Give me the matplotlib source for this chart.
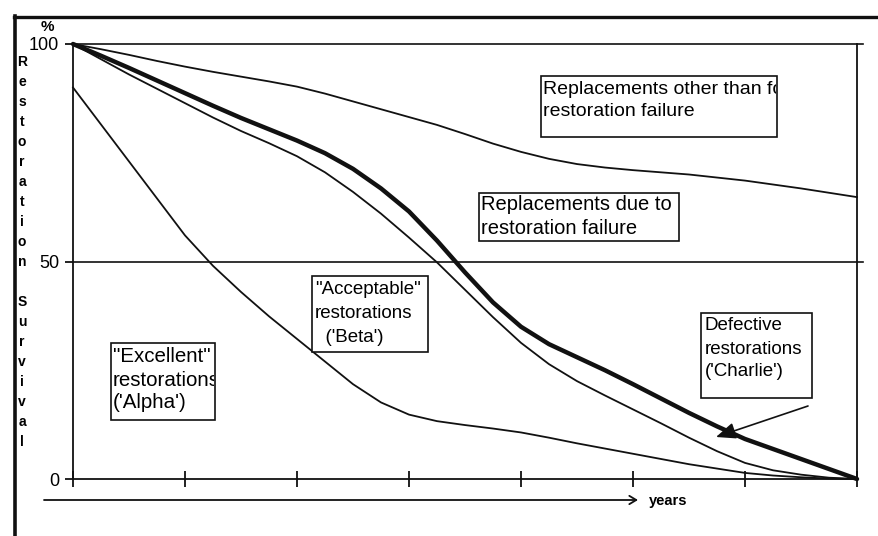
import matplotlib
matplotlib.use("Agg")
import matplotlib.pyplot as plt
from matplotlib.patches import Rectangle, FancyArrowPatch
from matplotlib.lines import Line2D
from matplotlib.transforms import Bbox, TransformedBbox

plt.rcParams['font.family'] = ['Liberation Sans', 'DejaVu Sans']

# ---- data ----
years = [0, 0.25, 0.5, 0.75, 1, 1.25, 1.5, 1.75, 2, 2.25, 2.5, 2.75, 3, 3.25, 3.5,
         3.75, 4, 4.25, 4.5, 4.75, 5, 5.25, 5.5, 5.75, 6, 6.25, 6.5, 6.75, 7]
other_replacements = [100, 98.8, 97.5, 96.1, 94.8, 93.6, 92.5, 91.4, 90.2, 88.6, 86.8, 85.0, 83.2, 81.4, 79.3,
                      77.1, 75.2, 73.6, 72.4, 71.6, 71.0, 70.5, 70.0, 69.3, 68.6, 67.7, 66.8, 65.8, 64.8]
failure_replacements = [100, 97.3, 94.5, 91.6, 88.7, 85.8, 83.0, 80.4, 77.8, 74.9, 71.3, 66.8, 61.5, 54.8, 47.5,
                        40.6, 35.0, 31.0, 28.0, 25.0, 21.8, 18.5, 15.2, 12.1, 9.2, 6.9, 4.6, 2.3, 0]
beta_boundary = [100, 96.5, 93.0, 89.7, 86.4, 83.1, 80.0, 77.2, 74.2, 70.5, 66.0, 61.0, 55.5, 49.8, 43.5,
                 37.2, 31.3, 26.4, 22.5, 19.2, 16.0, 12.8, 9.5, 6.4, 3.7, 2.0, 1.0, 0.3, 0]
alpha_boundary = [90, 81.5, 73.0, 64.5, 56.0, 49.0, 43.0, 37.4, 32.2, 27.0, 21.8, 17.6, 14.8, 13.3, 12.4,
                  11.6, 10.7, 9.5, 8.2, 7.0, 5.8, 4.6, 3.4, 2.4, 1.4, 0.8, 0.4, 0.1, 0]
y_ticks = [0, 50, 100]
y_ticklabels = ["0", "50", "100"]
x_ticks = [0, 1, 2, 3, 4, 5, 6, 7]
ylabel_text = "Restoration Survival"

W, H = 879, 536
fig = plt.figure(figsize=(W / 100, H / 100), dpi=100)
fig.patch.set_facecolor("white")


def fx(x):
    return x / W


def fy(y):
    return 1 - y / H


ax = fig.add_axes([fx(73), fy(479), 784 / W, 435 / H])
ax.set_xlim(0, 7)
ax.set_ylim(0, 100)
ax.set_facecolor("none")
ax.spines["top"].set_visible(False)
for s in ["left", "bottom", "right"]:
    ax.spines[s].set_linewidth(1.3)
    ax.spines[s].set_color("#111111")

ax.set_xticks(x_ticks)
ax.tick_params(axis="x", direction="inout", length=11, width=1.3, labelbottom=False, color="#111111")
ax.set_yticks(y_ticks)
ax.set_yticklabels(y_ticklabels, fontsize=13)
ax.tick_params(axis="y", direction="out", length=6, width=1.3, pad=4, color="#111111")

# horizontal reference lines at 100 and 50
for yv in (100, 50):
    ax.axhline(yv, xmin=0, xmax=(863 - 73) / 784, color="#111111", lw=1.2, clip_on=False)

ax.plot(years, other_replacements, color="#111111", lw=1.3, clip_on=False)
ax.plot(years, beta_boundary, color="#111111", lw=1.3, clip_on=False)
ax.plot(years, alpha_boundary, color="#111111", lw=1.3, clip_on=False)
ax.plot(years, failure_replacements, color="#111111", lw=3.2, clip_on=False,
        solid_capstyle="round", solid_joinstyle="round")

# percent sign
fig.text(fx(47), fy(27), "%", fontsize=11, ha="center", va="center", fontweight="bold")

# vertical stacked y-label
for i, ch in enumerate(ylabel_text):
    if ch == " ":
        continue
    fig.text(fx(22), fy(62 + 20 * i), ch, fontsize=10, fontweight="bold", ha="center", va="center")

# outer frame
fig.add_artist(Line2D([fx(14), fx(879)], [fy(16.5), fy(16.5)], color="#111111", lw=2.4))
fig.add_artist(Line2D([fx(14.5), fx(14.5)], [fy(16), fy(536)], color="#111111", lw=2.6))

# years arrow
fig.add_artist(FancyArrowPatch((fx(44), fy(500)), (fx(638), fy(500)), transform=fig.transFigure,
                               arrowstyle="->,head_length=5,head_width=3", lw=1.3, color="#111111",
                               mutation_scale=1, shrinkA=0, shrinkB=0))
fig.text(fx(649), fy(501), "years", fontsize=10.5, fontweight="bold", ha="left", va="center")


def box(x0, y0, x1, y1, lines, tx, ty_list, fs, clip_lines=()):
    fig.add_artist(Rectangle((fx(x0), fy(y1)), fx(x1) - fx(x0), fy(y0) - fy(y1),
                             transform=fig.transFigure, fill=True, facecolor="white",
                             edgecolor="#111111", lw=1.2))
    clip = TransformedBbox(Bbox([[fx(x0), fy(y1)], [fx(x1 - 1), fy(y0)]]), fig.transFigure)
    for i, (ln, ty) in enumerate(zip(lines, ty_list)):
        t = fig.text(fx(tx), fy(ty), ln, fontsize=fs, ha="left", va="center")
        if i in clip_lines:
            t.set_clip_box(clip)
            t.set_clip_on(True)


box(541, 76, 777, 137, ["Replacements other than for", "restoration failure"], 543, [89, 112], 14.0, clip_lines=(0,))
box(479, 193, 679, 241, ["Replacements due to", "restoration failure"], 481, [205, 228], 14.5)
box(312, 276, 428, 352, ['"Acceptable"', "restorations", "  ('Beta')"], 315, [289, 313, 337], 13.5)
box(111, 343, 215, 420, ['"Excellent"', "restorations", "('Alpha')"], 113, [356, 380, 403], 14.8, clip_lines=(1,))
box(701, 313, 812, 398, ["Defective", "restorations", "('Charlie')"], 705, [326, 349, 372], 13.5)

# arrow pointing to the Charlie curve
fig.add_artist(FancyArrowPatch((fx(808), fy(406)), (fx(716), fy(437)), transform=fig.transFigure,
                               arrowstyle="-|>,head_length=12,head_width=5", lw=1.2, color="#111111",
                               mutation_scale=1, shrinkA=0, shrinkB=0))

fig.savefig("out.png", dpi=100, facecolor="white")
